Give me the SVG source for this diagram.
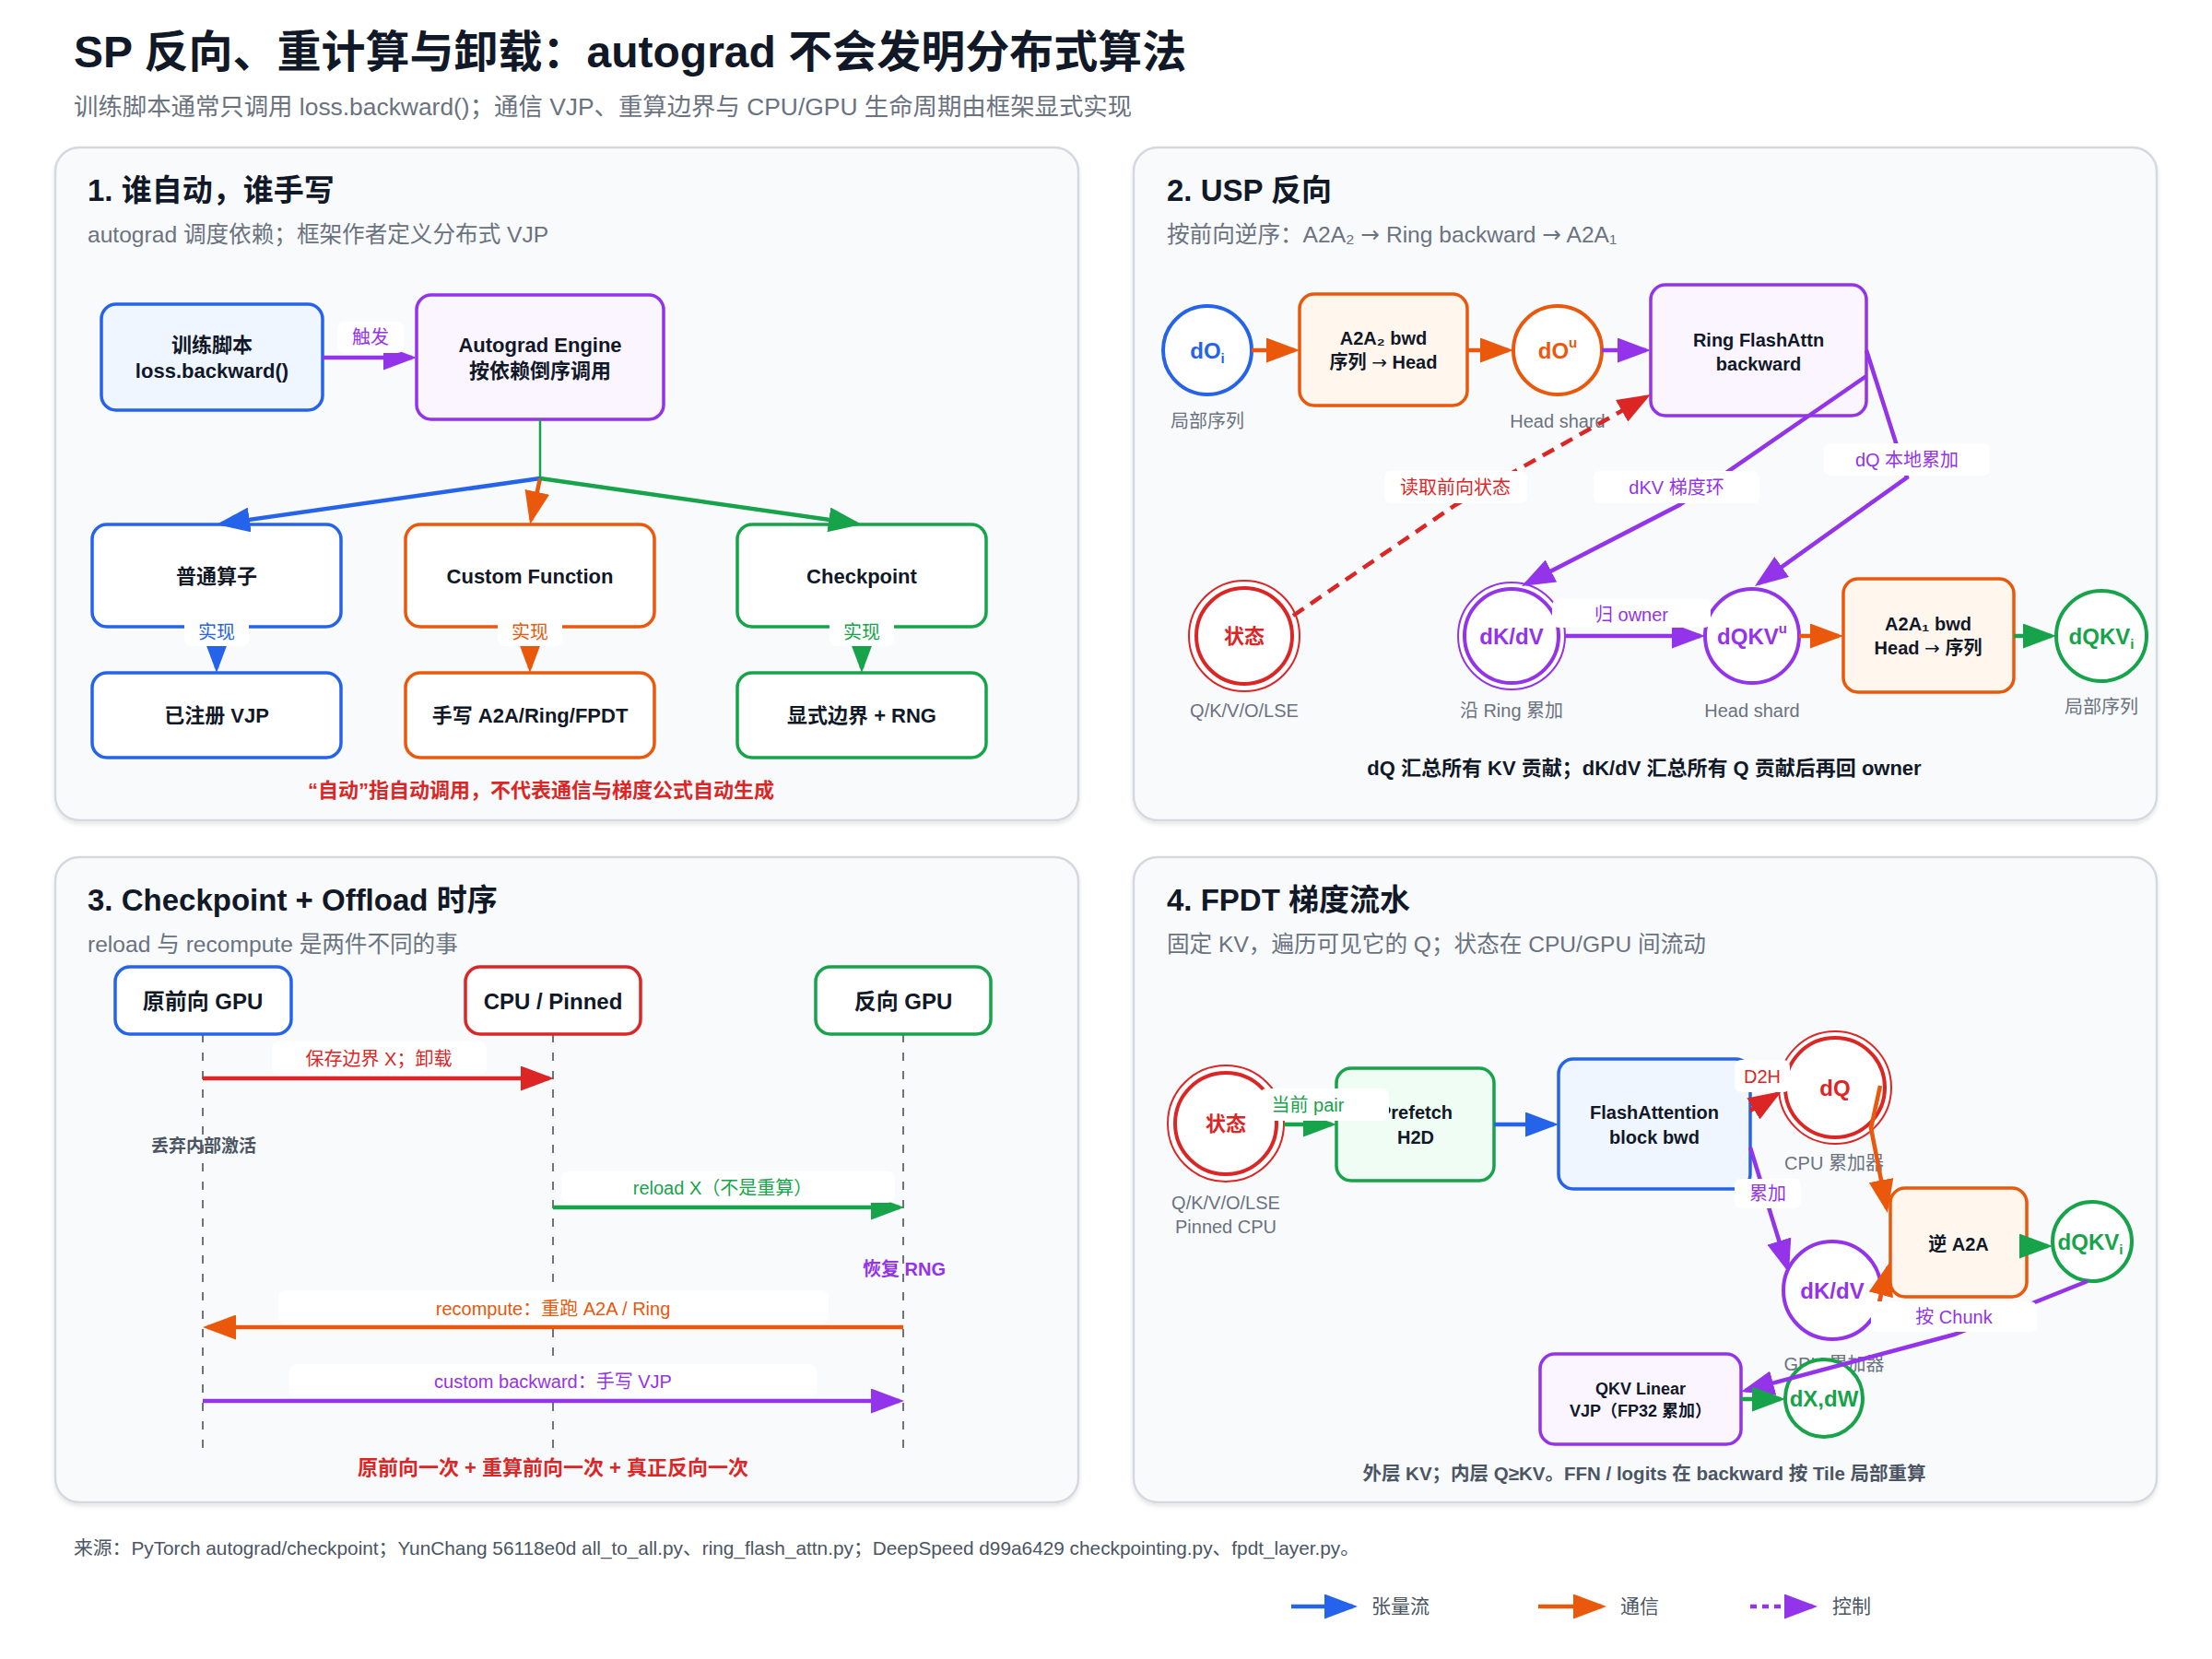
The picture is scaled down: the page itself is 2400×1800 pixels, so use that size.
<svg xmlns="http://www.w3.org/2000/svg" width="2400" height="1800" viewBox="0 0 2400 1800">
<defs>
<style>
text{font-family:"Liberation Sans","Noto Sans CJK SC",sans-serif}
.ar{font-family:"DejaVu Sans",sans-serif;font-weight:400}
.title{font-size:48px;font-weight:700;fill:#111827}
.sub{font-size:26.4px;fill:#6b7280}
.pt{font-size:33px;font-weight:700;fill:#111827}
.ps{font-size:24.6px;fill:#6b7280}
.panel{fill:#f8fafc;stroke:#d5d9df;stroke-width:2.5}
.nt{font-size:22px;font-weight:700;fill:#111827;text-anchor:middle;dominant-baseline:central}
.nt2{font-size:20px;font-weight:700;fill:#111827;text-anchor:middle;dominant-baseline:central}
.nt3{font-size:18px;font-weight:700;fill:#111827;text-anchor:middle;dominant-baseline:central}
.lt{font-size:24px;font-weight:700;fill:#111827;text-anchor:middle;dominant-baseline:central}
.ct{font-size:24px;font-weight:700;text-anchor:middle;dominant-baseline:central}
.st{font-size:22px;font-weight:700;text-anchor:middle;dominant-baseline:central}
.el{font-size:20px;text-anchor:middle;dominant-baseline:central}
.gl{font-size:20px;fill:#6b7280;text-anchor:middle;dominant-baseline:central}
.note{font-size:22px;font-weight:700;text-anchor:middle;dominant-baseline:central}
.lb{fill:#ffffff}
.bx{stroke-width:3.5}
.cb{fill:#ffffff;stroke-width:4}
.co{fill:#ffffff;stroke-width:2}
.e{fill:none;stroke-width:4.5}
.life{stroke:#6b7280;stroke-width:2;stroke-dasharray:9 11}
.cB{stroke:#2563eb}.cO{stroke:#ea580c}.cG{stroke:#16a34a}.cP{stroke:#9333ea}.cR{stroke:#dc2626}
.fB{fill:#2563eb}.fO{fill:#ea580c}.fG{fill:#16a34a}.fP{fill:#9333ea}.fR{fill:#dc2626}
.lB{fill:#eff6ff}.lO{fill:#fff7ed}.lG{fill:#f0fdf4}.lP{fill:#faf5ff}.w{fill:#ffffff}
</style>
<filter id="sh" x="-3%" y="-3%" width="106%" height="108%"><feDropShadow dx="0" dy="3" stdDeviation="2" flood-color="#000" flood-opacity="0.10"/></filter>
<marker id="aB" markerUnits="userSpaceOnUse" markerWidth="36" markerHeight="27" viewBox="0 0 36 27" refX="31" refY="13.5" orient="auto"><path d="M0,0 L36,13.5 L0,27 z" fill="#2563eb"/></marker>
<marker id="aO" markerUnits="userSpaceOnUse" markerWidth="36" markerHeight="27" viewBox="0 0 36 27" refX="31" refY="13.5" orient="auto"><path d="M0,0 L36,13.5 L0,27 z" fill="#ea580c"/></marker>
<marker id="aG" markerUnits="userSpaceOnUse" markerWidth="36" markerHeight="27" viewBox="0 0 36 27" refX="31" refY="13.5" orient="auto"><path d="M0,0 L36,13.5 L0,27 z" fill="#16a34a"/></marker>
<marker id="aP" markerUnits="userSpaceOnUse" markerWidth="36" markerHeight="27" viewBox="0 0 36 27" refX="31" refY="13.5" orient="auto"><path d="M0,0 L36,13.5 L0,27 z" fill="#9333ea"/></marker>
<marker id="aR" markerUnits="userSpaceOnUse" markerWidth="36" markerHeight="27" viewBox="0 0 36 27" refX="31" refY="13.5" orient="auto"><path d="M0,0 L36,13.5 L0,27 z" fill="#dc2626"/></marker>
</defs>

<rect x="0" y="0" width="2400" height="1800" fill="#ffffff"/>

<text class="title" x="80" y="73">SP 反向、重计算与卸载：autograd 不会发明分布式算法</text>
<text class="sub" x="80" y="125">训练脚本通常只调用 loss.backward()；通信 VJP、重算边界与 CPU/GPU 生命周期由框架显式实现</text>

<g id="panels">
<rect class="panel" filter="url(#sh)" x="60" y="160" width="1110" height="730" rx="26"/>
<rect class="panel" filter="url(#sh)" x="1230" y="160" width="1110" height="730" rx="26"/>
<rect class="panel" filter="url(#sh)" x="60" y="930" width="1110" height="700" rx="26"/>
<rect class="panel" filter="url(#sh)" x="1230" y="930" width="1110" height="700" rx="26"/>
<text class="pt" x="95" y="218">1. 谁自动，谁手写</text>
<text class="ps" x="95" y="263">autograd 调度依赖；框架作者定义分布式 VJP</text>
<text class="pt" x="1266" y="218">2. USP 反向</text>
<text class="ps" x="1266" y="263">按前向逆序：A2A₂ <tspan class="ar">→</tspan> Ring backward <tspan class="ar">→</tspan> A2A₁</text>
<text class="pt" x="95" y="988">3. Checkpoint + Offload 时序</text>
<text class="ps" x="95" y="1033">reload 与 recompute 是两件不同的事</text>
<text class="pt" x="1266" y="988">4. FPDT 梯度流水</text>
<text class="ps" x="1266" y="1033">固定 KV，遍历可见它的 Q；状态在 CPU/GPU 间流动</text>
</g>

<!-- Panel 1 nodes -->
<g id="p1-script"><rect class="bx cB lB" x="110" y="330" width="240" height="115" rx="16"/><text class="nt" x="230" y="374">训练脚本</text><text class="nt" x="230" y="402">loss.backward()</text></g>
<g id="p1-engine"><rect class="bx cP lP" x="452" y="320" width="268" height="135" rx="16"/><text class="nt" x="586" y="374">Autograd Engine</text><text class="nt" x="586" y="402">按依赖倒序调用</text></g>
<g id="p1-op"><rect class="bx cB w" x="100" y="569" width="270" height="111" rx="16"/><text class="nt" x="235" y="625">普通算子</text></g>
<g id="p1-custom"><rect class="bx cO w" x="440" y="569" width="270" height="111" rx="16"/><text class="nt" x="575" y="625">Custom Function</text></g>
<g id="p1-ckpt"><rect class="bx cG w" x="800" y="569" width="270" height="111" rx="16"/><text class="nt" x="935" y="625">Checkpoint</text></g>
<g id="p1-vjp"><rect class="bx cB w" x="100" y="730" width="270" height="92" rx="16"/><text class="nt" x="235" y="776">已注册 VJP</text></g>
<g id="p1-hand"><rect class="bx cO w" x="440" y="730" width="270" height="92" rx="16"/><text class="nt" x="575" y="776">手写 A2A/Ring/FPDT</text></g>
<g id="p1-bound"><rect class="bx cG w" x="800" y="730" width="270" height="92" rx="16"/><text class="nt" x="935" y="776">显式边界 + RNG</text></g>
<text class="note fR" x="587" y="857">“自动”指自动调用，不代表通信与梯度公式自动生成</text>

<!-- Panel 2 nodes -->
<g id="p2-doi"><circle class="cb cB" cx="1310" cy="380" r="48"/><text class="ct fB" x="1310" y="380">dO<tspan font-size="15" dy="8">i</tspan></text><text class="gl" x="1310" y="457">局部序列</text></g>
<g id="p2-a2a2"><rect class="bx cO lO" x="1410" y="319" width="182" height="121" rx="16"/><text class="nt2" x="1501" y="367">A2A₂ bwd</text><text class="nt2" x="1501" y="393">序列 <tspan class="ar">→</tspan> Head</text></g>
<g id="p2-dou"><circle class="cb cO" cx="1690" cy="380" r="48"/><text class="ct fO" x="1690" y="380">dO<tspan font-size="15" dy="-9">u</tspan></text><text class="gl" x="1690" y="457">Head shard</text></g>
<g id="p2-ring"><rect class="bx cP lP" x="1791" y="309" width="234" height="142" rx="16"/><text class="nt2" x="1908" y="369">Ring FlashAttn</text><text class="nt2" x="1908" y="395">backward</text></g>
<g id="p2-state"><circle class="co cR" cx="1350" cy="690" r="60"/><circle class="cb cR" cx="1350" cy="690" r="52"/><text class="st fR" x="1350" y="690">状态</text><text class="gl" x="1350" y="771">Q/K/V/O/LSE</text></g>
<g id="p2-dkdv"><circle class="co cP" cx="1640" cy="690" r="58"/><circle class="cb cP" cx="1640" cy="690" r="51"/><text class="ct fP" x="1640" y="690">dK/dV</text><text class="gl" x="1640" y="771">沿 Ring 累加</text></g>
<g id="p2-dqkvu"><circle class="cb cP" cx="1901" cy="690" r="51"/><text class="ct fP" x="1901" y="690">dQKV<tspan font-size="15" dy="-9">u</tspan></text><text class="gl" x="1901" y="771">Head shard</text></g>
<g id="p2-a2a1"><rect class="bx cO lO" x="2000" y="628" width="185" height="123" rx="16"/><text class="nt2" x="2092" y="677">A2A₁ bwd</text><text class="nt2" x="2092" y="703">Head <tspan class="ar">→</tspan> 序列</text></g>
<g id="p2-dqkvi"><circle class="cb cG" cx="2280" cy="690" r="49"/><text class="ct fG" x="2280" y="690">dQKV<tspan font-size="15" dy="8">i</tspan></text><text class="gl" x="2280" y="767">局部序列</text></g>
<text class="note" fill="#111827" x="1784" y="833">dQ 汇总所有 KV 贡献；dK/dV 汇总所有 Q 贡献后再回 owner</text>

<!-- Panel 3 nodes -->
<g id="p3-lifelines">
<line class="life" x1="220" y1="1122" x2="220" y2="1572"/>
<line class="life" x1="600" y1="1122" x2="600" y2="1572"/>
<line class="life" x1="980" y1="1122" x2="980" y2="1572"/>
</g>
<g id="p3-fwd"><rect class="bx cB w" x="125" y="1049" width="191" height="73" rx="16"/><text class="lt" x="220" y="1086">原前向 GPU</text></g>
<g id="p3-cpu"><rect class="bx cR w" x="505" y="1049" width="190" height="73" rx="16"/><text class="lt" x="600" y="1086">CPU / Pinned</text></g>
<g id="p3-bwd"><rect class="bx cG w" x="885" y="1049" width="190" height="73" rx="16"/><text class="lt" x="980" y="1086">反向 GPU</text></g>
<text class="el" font-weight="700" fill="#4b5563" style="font-size:19px" x="221" y="1243">丢弃内部激活</text>
<text class="el fP" font-weight="700" x="981" y="1377">恢复 RNG</text>
<text class="note fR" x="600" y="1592">原前向一次 + 重算前向一次 + 真正反向一次</text>

<!-- Panel 4 nodes -->
<g id="p4-state"><circle class="co cR" cx="1330" cy="1219" r="63"/><circle class="cb cR" cx="1330" cy="1219" r="55"/><text class="st fR" x="1330" y="1219">状态</text><text class="gl" x="1330" y="1305">Q/K/V/O/LSE</text><text class="gl" x="1330" y="1331">Pinned CPU</text></g>
<g id="p4-prefetch"><rect class="bx cG lG" x="1450" y="1159" width="171" height="122" rx="16"/><text class="nt2" x="1536" y="1207">Prefetch</text><text class="nt2" x="1536" y="1234">H2D</text></g>
<g id="p4-fa"><rect class="bx cB lB" x="1691" y="1149" width="208" height="141" rx="16"/><text class="nt2" x="1795" y="1207">FlashAttention</text><text class="nt2" x="1795" y="1234">block bwd</text></g>
<g id="p4-dq"><circle class="co cR" cx="1991" cy="1180" r="61"/><circle class="cb cR" cx="1991" cy="1180" r="54"/><text class="ct fR" x="1991" y="1180">dQ</text><text class="gl" x="1990" y="1262">CPU 累加器</text></g>
<g id="p4-dkdv"><circle class="cb cP" cx="1988" cy="1400" r="53"/><text class="ct fP" x="1988" y="1400">dK/dV</text><text class="gl" x="1990" y="1480">GPU 累加器</text></g>
<g id="p4-a2a"><rect class="bx cO lO" x="2051" y="1289" width="148" height="118" rx="16"/><text class="nt2" x="2125" y="1350">逆 A2A</text></g>
<g id="p4-dqkvi"><circle class="cb cG" cx="2270" cy="1347" r="43"/><text class="ct fG" x="2268" y="1347">dQKV<tspan font-size="15" dy="8">i</tspan></text></g>
<g id="p4-qkv"><rect class="bx cP lP" x="1671" y="1469" width="218" height="98" rx="16"/><text class="nt3" x="1780" y="1507">QKV Linear</text><text class="nt3" x="1780" y="1531">VJP（FP32 累加）</text></g>
<g id="p4-dxdw"><circle class="cb cG" cx="1979" cy="1517" r="42"/><text class="ct fG" x="1979" y="1517">dX,dW</text></g>
<text class="note" fill="#4b5563" style="font-size:20.5px" x="1784" y="1598">外层 KV；内层 Q≥KV。FFN / logits 在 backward 按 Tile 局部重算</text>

<!-- Connectors -->
<g id="connectors">
<!-- panel 1 -->
<line class="e cP" x1="350" y1="388" x2="447" y2="388" marker-end="url(#aP)"/>
<rect class="lb" x="366" y="349" width="72" height="34" rx="7"/><text class="el fP" x="402" y="366">触发</text>
<line x1="586" y1="455" x2="586" y2="519" stroke="#16a34a" stroke-width="2.5"/>
<line class="e cB" x1="586" y1="519" x2="240" y2="568.3" marker-end="url(#aB)"/>
<line class="e cO" x1="586" y1="519" x2="576.2" y2="564.1" marker-end="url(#aO)"/>
<line class="e cG" x1="586" y1="519" x2="930" y2="568.3" marker-end="url(#aG)"/>
<line class="e cB" x1="235" y1="680" x2="235" y2="725" marker-end="url(#aB)"/>
<rect class="lb" x="200" y="671" width="70" height="30" rx="7"/><text class="el fB" x="235" y="686">实现</text>
<line class="e cO" x1="575" y1="680" x2="575" y2="725" marker-end="url(#aO)"/>
<rect class="lb" x="540" y="671" width="70" height="30" rx="7"/><text class="el fO" x="575" y="686">实现</text>
<line class="e cG" x1="935" y1="680" x2="935" y2="725" marker-end="url(#aG)"/>
<rect class="lb" x="900" y="671" width="70" height="30" rx="7"/><text class="el fG" x="935" y="686">实现</text>

<!-- panel 2 -->
<line class="e cO" x1="1358" y1="380" x2="1405" y2="380" marker-end="url(#aO)"/>
<line class="e cO" x1="1592" y1="380" x2="1637" y2="380" marker-end="url(#aO)"/>
<line class="e cP" x1="1738" y1="380" x2="1786" y2="380" marker-end="url(#aP)"/>
<polyline class="e cR" stroke-width="4" stroke-dasharray="14 9" points="1403,668 1579,548 1786.6,430.5" marker-end="url(#aR)"/>
<rect class="lb" x="1502" y="511" width="155" height="35" rx="7"/><text class="el fR" x="1579" y="529">读取前向状态</text>
<polyline class="e cP" stroke-width="4" points="2025,408 1822,548 1655.4,633.7" marker-end="url(#aP)"/>
<rect class="lb" x="1729" y="511" width="180" height="35" rx="7"/><text class="el fP" x="1819" y="529">dKV 梯度环</text>
<polyline class="e cP" stroke-width="4" points="2025,380 2069,518 1908,633.1" marker-end="url(#aP)"/>
<rect class="lb" x="1979" y="481" width="180" height="35" rx="7"/><text class="el fP" x="2069" y="499">dQ 本地累加</text>
<line class="e cP" x1="1698" y1="690" x2="1845" y2="690" marker-end="url(#aP)"/>
<rect class="lb" x="1684" y="650" width="172" height="31" rx="7"/><text class="el fP" x="1770" y="667">归 owner</text>
<line class="e cO" x1="1952" y1="690" x2="1995" y2="690" marker-end="url(#aO)"/>
<line class="e cG" x1="2185" y1="690" x2="2226" y2="690" marker-end="url(#aG)"/>

<!-- panel 3 -->
<line class="e cR" x1="220" y1="1170" x2="596" y2="1170" marker-end="url(#aR)"/>
<rect class="lb" x="295" y="1130" width="233" height="37" rx="8"/><text class="el fR" x="411" y="1149">保存边界 X；卸载</text>
<line class="e cG" x1="600" y1="1310" x2="976" y2="1310" marker-end="url(#aG)"/>
<rect class="lb" x="609" y="1271" width="362" height="34" rx="8"/><text class="el fG" x="784" y="1289">reload X（不是重算）</text>
<line class="e cO" x1="980" y1="1440" x2="225" y2="1440" marker-end="url(#aO)"/>
<rect class="lb" x="302" y="1400" width="597" height="36" rx="8"/><text class="el fO" x="600" y="1420">recompute：重跑 A2A / Ring</text>
<line class="e cP" x1="220" y1="1520" x2="976" y2="1520" marker-end="url(#aP)"/>
<rect class="lb" x="314" y="1480" width="572" height="36" rx="8"/><text class="el fP" x="600" y="1499">custom backward：手写 VJP</text>

<!-- panel 4 -->
<line class="e cG" x1="1393" y1="1220" x2="1445" y2="1220" marker-end="url(#aG)"/>
<rect class="lb" x="1367" y="1181" width="140" height="35" rx="7"/><text class="el fG" x="1419" y="1199">当前 pair</text>
<line class="e cB" x1="1621" y1="1220" x2="1686" y2="1220" marker-end="url(#aB)"/>
<line class="e cR" x1="1899" y1="1205" x2="1928.7" y2="1186.6" marker-end="url(#aR)"/>
<rect class="lb" x="1882" y="1150" width="60" height="35" rx="7"/><text class="el fR" x="1912" y="1168">D2H</text>
<line class="e cP" stroke-width="4" x1="1899" y1="1245" x2="1939.5" y2="1376.2" marker-end="url(#aP)"/>
<rect class="lb" x="1882" y="1279" width="72" height="32" rx="7"/><text class="el fP" x="1918" y="1295">累加</text>
<polyline class="e cO" stroke-width="4" points="2040,1178 2030,1224 2047,1311" marker-end="url(#aO)"/>
<line class="e cO" stroke-width="4" x1="2039" y1="1412" x2="2048.7" y2="1374.8" marker-end="url(#aO)"/>
<line class="e cG" x1="2192" y1="1352" x2="2222" y2="1352" marker-end="url(#aG)"/>
<polyline class="e cP" stroke-width="4" points="2265,1390 2120,1448 1893.8,1508.7" marker-end="url(#aP)"/>
<rect class="lb" x="2030" y="1412" width="180" height="33" rx="7"/><text class="el fP" x="2120" y="1429">按 Chunk</text>
<line class="e cG" x1="1889" y1="1518" x2="1932" y2="1518" marker-end="url(#aG)"/>
</g>

<text x="80" y="1687" font-size="20.8" fill="#4b5563">来源：PyTorch autograd/checkpoint；YunChang 56118e0d all_to_all.py、ring_flash_attn.py；DeepSpeed d99a6429 checkpointing.py、fpdt_layer.py。</text>

<g id="legend">
<line class="e cB" x1="1401" y1="1743" x2="1468" y2="1743" marker-end="url(#aB)"/>
<text x="1488" y="1750" font-size="21" fill="#4b5563">张量流</text>
<line class="e cO" x1="1669" y1="1743" x2="1738" y2="1743" marker-end="url(#aO)"/>
<text x="1758" y="1750" font-size="21" fill="#4b5563">通信</text>
<line class="e cP" stroke-dasharray="7 6" x1="1899" y1="1743" x2="1967" y2="1743" marker-end="url(#aP)"/>
<text x="1988" y="1750" font-size="21" fill="#4b5563">控制</text>
</g>
</svg>
